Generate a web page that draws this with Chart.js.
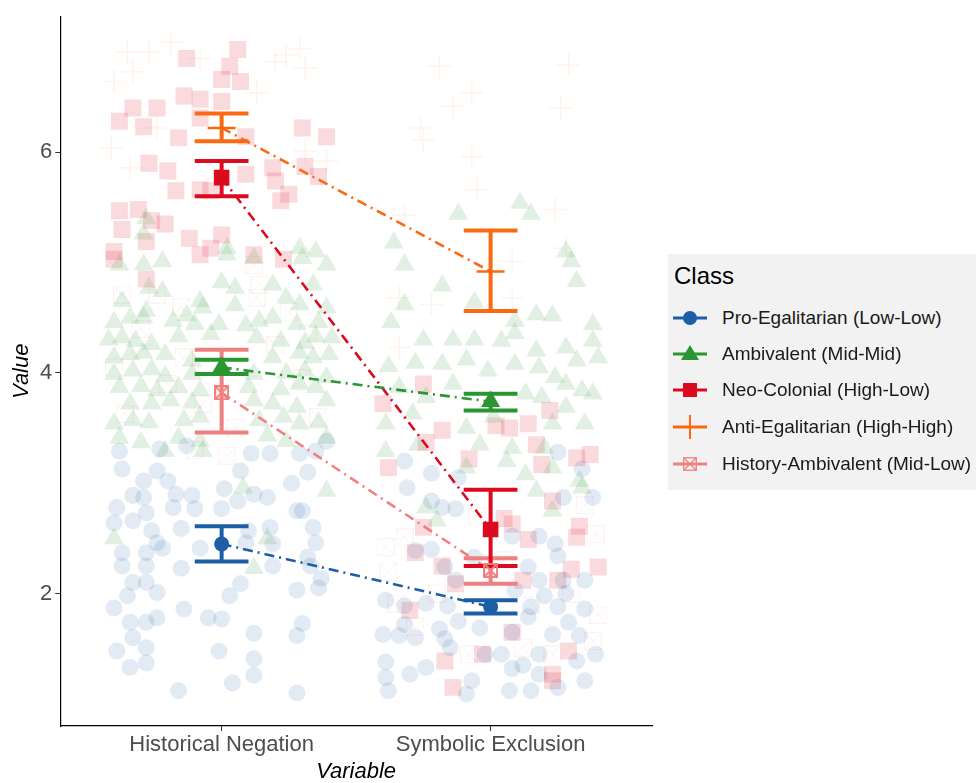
<!DOCTYPE html>
<html>
<head>
<meta charset="utf-8">
<script src="https://cdn.jsdelivr.net/npm/chart.js@4.4.1/dist/chart.umd.min.js"></script>
<style>
  body { margin: 0; background: #fff; }
  #wrap { position: relative; width: 976px; height: 783px; overflow: hidden; font-family: "Liberation Sans", Arial, sans-serif; }
  #legend { position: absolute; left: 668px; top: 254px; width: 330px; height: 236px; background: #f2f2f2; }
  #legend .title { position: absolute; left: 6px; top: 8px; font-size: 24px; color: #000; }
  #legend .row { position: absolute; left: 4px; height: 24px; display: flex; align-items: center; }
  #legend .row canvas { width: 36px; height: 24px; }
  #legend .row span { margin-left: 14px; font-size: 19px; color: #1a1a1a; white-space: nowrap; }
</style>
</head>
<body>
<div id="wrap">
  <canvas id="c" width="976" height="783"></canvas>
  <div id="legend"><div class="title">Class</div></div>
</div>
<script>
// ---------------------------------------------------------------
// data
const categories = ['Historical Negation', 'Symbolic Exclusion'];
const classNames = ['Pro-Egalitarian (Low-Low)', 'Ambivalent (Mid-Mid)', 'Neo-Colonial (High-Low)',
                    'Anti-Egalitarian (High-High)', 'History-Ambivalent (Mid-Low)'];
const classColors = ['#1d5fa6', '#2a9632', '#dc0a1e', '#fb6a12', '#f08080'];
const yTicks = [2, 4, 6];

// class means per category [HN, SE] and error bar limits
const means   = [[2.45, 1.88], [4.05, 3.74], [5.77, 2.58], [6.22, 4.92], [3.82, 2.21]];
const lowerCI = [[2.29, 1.82], [3.99, 3.66], [5.60, 2.25], [6.10, 4.56], [3.46, 2.09]];
const upperCI = [[2.61, 1.94], [4.12, 3.81], [5.92, 2.94], [6.35, 5.29], [4.21, 2.32]];

// jittered observations: [offset from category, value]
const ptsProEgalHN = [[-0.33,2.89],[-0.29,2.87],[-0.39,2.78],[-0.28,2.73],[-0.18,2.78],[-0.17,2.90],[-0.11,2.89],
  [-0.10,2.77],[0.01,2.95],[0.00,2.77],[0.06,2.84],[0.12,2.90],[0.17,2.87],[0.26,3.00],[0.30,2.75],[0.34,2.60],
  [0.35,2.46],[-0.40,2.64],[-0.33,2.66],[-0.26,2.57],[-0.24,2.46],[-0.22,2.41],[-0.37,2.37],[-0.28,2.37],
  [-0.37,2.25],[-0.28,2.25],[-0.15,2.59],[-0.15,2.23],[-0.08,2.41],[0.10,2.57],[0.09,2.46],[0.18,2.60],
  [0.19,2.45],[0.19,2.25],[0.32,2.33],[0.33,2.25],[0.28,2.75],[-0.33,2.10],[-0.28,2.10],[-0.24,2.01],
  [-0.35,1.98],[-0.40,1.87],[-0.14,1.86],[0.07,2.09],[0.03,1.98],[0.28,2.03],[0.36,2.05],[0.37,2.14],
  [-0.34,1.74],[-0.28,1.74],[-0.24,1.78],[-0.33,1.60],[-0.05,1.78],[0.00,1.77],[0.12,1.64],[0.30,1.73],
  [0.28,1.62],[-0.39,1.48],[-0.28,1.51],[-0.01,1.48],[-0.34,1.33],[-0.28,1.37],[0.12,1.41],[0.12,1.26],
  [0.04,1.19],[-0.16,1.12],[0.28,1.10],[-0.38,3.29],[-0.37,3.13],[-0.29,3.02],[-0.24,3.11],[-0.23,3.31],
  [-0.20,3.02],[-0.13,3.34],[0.07,3.11],[0.11,3.27],[0.18,3.27],[0.29,3.27],[0.32,3.10],[0.35,3.29],[0.39,3.38]];
const ptsProEgalSE = [[-0.31,2.96],[-0.13,2.77],[-0.22,2.84],[-0.18,2.78],[0.27,2.87],[0.38,2.87],[0.18,2.52],
  [0.08,2.52],[-0.28,2.39],[-0.22,2.40],[-0.06,2.33],[0.25,2.34],[0.24,2.45],[0.14,2.24],[0.18,2.12],
  [-0.17,2.24],[-0.13,2.12],[0.27,2.12],[0.35,2.12],[0.20,1.98],[0.15,1.88],[0.14,1.79],[0.25,1.88],
  [0.35,1.86],[-0.39,1.94],[-0.32,1.89],[-0.24,1.91],[-0.16,1.89],[-0.32,1.72],[-0.40,1.63],[-0.34,1.62],
  [-0.28,1.60],[-0.19,1.68],[-0.17,1.59],[-0.04,1.69],[-0.12,1.75],[0.08,1.65],[0.33,1.62],[0.29,1.74],
  [-0.39,1.38],[-0.30,1.27],[-0.24,1.33],[-0.39,1.24],[-0.38,1.12],[-0.15,1.51],[-0.02,1.45],[0.04,1.45],
  [0.18,1.45],[0.12,1.35],[0.18,1.27],[0.08,1.32],[-0.07,1.21],[-0.09,1.09],[0.07,1.12],[0.15,1.12],
  [0.25,1.15],[0.35,1.21],[0.39,1.45],[0.32,1.39],[0.23,1.63],[0.28,2.00],[0.09,2.03],[-0.32,3.20],
  [0.25,3.28],[0.34,3.13],[-0.12,3.05],[-0.22,3.09]];

const ptsAmbivHN = [[-0.38,4.98],[-0.29,4.98],[-0.22,5.01],[0.02,5.07],[0.12,5.04],[0.30,5.04],[0.39,4.98],
  [-0.27,4.77],[-0.22,4.74],[0.00,4.82],[0.05,4.77],[0.19,4.80],[0.34,4.80],[-0.37,4.65],[-0.28,4.56],
  [-0.08,4.65],[-0.07,4.59],[0.05,4.61],[0.24,4.68],[0.29,4.62],[0.39,4.59],[-0.40,4.46],[-0.34,4.50],
  [-0.29,4.50],[-0.18,4.47],[-0.13,4.52],[-0.10,4.44],[-0.01,4.44],[0.09,4.43],[0.14,4.47],[0.19,4.50],
  [0.28,4.44],[0.36,4.46],[-0.42,4.30],[-0.37,4.32],[-0.32,4.29],[-0.26,4.26],[-0.16,4.33],[-0.04,4.35],
  [0.13,4.32],[0.22,4.29],[0.31,4.27],[0.35,4.33],[0.41,4.32],[-0.40,4.14],[-0.34,4.17],[-0.29,4.18],
  [-0.21,4.17],[-0.11,4.11],[0.19,4.14],[0.29,4.18],[0.34,4.14],[0.40,4.17],[-0.40,3.99],[-0.33,4.02],
  [-0.26,4.03],[-0.21,3.97],[-0.11,3.99],[0.12,3.99],[0.24,4.00],[0.31,4.02],[0.39,3.96],[-0.38,3.87],
  [-0.30,3.88],[-0.24,3.84],[-0.16,3.87],[-0.08,3.84],[0.10,3.87],[0.22,3.85],[0.29,3.90],[0.35,3.87],
  [-0.34,3.72],[-0.26,3.72],[-0.19,3.75],[-0.11,3.73],[0.12,3.75],[0.19,3.72],[0.28,3.69],[0.39,3.75],
  [-0.40,3.54],[-0.33,3.57],[-0.27,3.55],[-0.14,3.57],[-0.08,3.60],[0.14,3.57],[0.23,3.60],[0.29,3.54],
  [0.36,3.55],[-0.38,3.41],[-0.30,3.37],[-0.16,3.41],[-0.08,3.38],[0.17,3.43],[0.24,3.38],[0.39,3.41],
  [-0.21,3.29],[-0.07,3.29],[-0.28,5.40],[-0.29,5.26],[0.02,5.13],[0.29,5.13],[0.35,5.10],
  [-0.40,2.50],[0.17,2.50],[0.12,2.23],[0.39,2.93],[0.08,2.96]];
const ptsAmbivSE = [[-0.12,5.44],[0.11,5.54],[0.15,5.44],[-0.36,5.18],[0.28,5.10],[-0.32,4.98],[0.30,5.01],
  [0.32,4.83],[-0.18,4.79],[-0.32,4.62],[-0.06,4.64],[-0.37,4.46],[0.09,4.47],[0.17,4.53],[0.23,4.52],
  [0.38,4.44],[-0.25,4.30],[-0.14,4.30],[-0.06,4.30],[0.04,4.29],[0.17,4.20],[0.28,4.23],[0.38,4.29],
  [0.09,4.36],[-0.38,4.06],[-0.28,4.09],[-0.18,4.08],[-0.09,4.12],[-0.01,4.02],[0.09,4.08],[0.18,4.05],
  [0.24,3.96],[0.32,4.11],[0.40,4.14],[0.28,3.90],[-0.34,3.87],[-0.24,3.78],[-0.14,3.90],[0.13,3.81],
  [0.19,3.78],[0.38,3.81],[0.34,3.84],[-0.39,3.54],[-0.29,3.63],[-0.09,3.50],[0.01,3.60],[0.23,3.54],
  [0.28,3.69],[0.35,3.54],[-0.39,3.29],[-0.27,3.35],[-0.04,3.35],[0.08,3.32],[0.20,3.32],[0.06,3.20],
  [0.23,3.14],[-0.09,3.14],[0.13,3.08],[0.33,3.02],[0.34,2.96],[0.17,2.93],[0.23,2.75],[-0.24,2.78],
  [-0.20,2.66]];

const ptsNeoColHN = [[0.06,6.93],[-0.13,6.85],[0.03,6.78],[0.00,6.66],[0.07,6.64],[-0.14,6.51],[-0.08,6.48],
  [0.00,6.46],[-0.33,6.40],[-0.24,6.40],[-0.38,6.28],[-0.29,6.23],[-0.16,6.13],[-0.08,6.31],[0.09,6.14],
  [0.30,6.22],[0.39,6.14],[-0.27,5.90],[-0.20,5.83],[0.09,5.80],[0.19,5.86],[0.31,5.87],[0.20,5.74],
  [0.36,5.78],[-0.17,5.65],[-0.08,5.66],[-0.04,5.65],[0.22,5.56],[0.25,5.62],[-0.38,5.47],[-0.31,5.48],
  [-0.26,5.38],[-0.21,5.35],[-0.37,5.30],[-0.12,5.22],[0.00,5.25],[-0.40,5.10],[-0.28,5.19],[-0.04,5.13],
  [-0.40,5.03],[-0.28,4.85],[-0.08,5.07],[0.12,5.07],[0.23,5.03]];
const ptsNeoColSE = [[-0.25,3.90],[-0.40,3.72],[0.02,3.52],[0.07,3.50],[0.14,3.54],[0.22,3.66],[0.17,3.35],
  [0.19,3.17],[-0.08,3.22],[-0.18,3.48],[-0.24,3.37],[0.32,3.23],[0.37,3.26],[-0.38,3.14],[0.23,2.84],
  [0.33,2.61],[0.32,2.51],[0.40,2.24],[0.30,2.22],[0.25,2.12],[-0.25,2.60],[-0.28,2.37],[-0.18,2.25],
  [0.08,2.63],[0.05,2.68],[0.14,2.49],[-0.13,2.09],[0.08,1.65],[-0.03,1.45],[-0.17,1.39],[-0.14,1.15],
  [0.23,1.21],[0.29,1.48],[0.23,1.27],[0.12,2.12],[-0.30,1.85]];

const ptsAntiEgHN = [[-0.35,6.91],[-0.27,6.91],[-0.19,7.00],[-0.08,6.85],[-0.40,6.64],[-0.33,6.73],[0.13,6.54],
  [0.24,6.88],[0.29,6.94],[0.31,6.76],[-0.41,6.04],[-0.34,5.86],[0.31,6.01],[0.39,5.92],[-0.24,6.22],[0.20,6.82]];
const ptsAntiEgSE = [[-0.19,6.78],[-0.07,6.54],[-0.14,6.42],[-0.26,6.22],[-0.25,6.11],[-0.07,5.96],[-0.05,5.66],
  [0.29,6.79],[0.26,6.40],[0.24,5.48],[-0.32,5.43],[0.28,5.13],[-0.34,4.68],[-0.22,4.62],[0.08,4.68],
  [-0.34,4.23],[0.08,5.01]];

const ptsHistAmbHN = [[-0.37,4.71],[-0.24,4.71],[0.13,4.68],[0.14,4.80],[-0.14,4.14],[-0.07,3.72],[-0.36,3.63],
  [0.12,4.98],[-0.30,4.40],[0.20,4.25],[-0.20,3.90],[0.05,3.50],[0.30,3.95],[-0.10,3.30],[0.25,4.55],
  [-0.40,4.05],[0.36,3.60],[-0.15,4.60],[0.02,3.25],[0.32,4.35]];
const ptsHistAmbSE = [[-0.39,2.42],[-0.32,2.51],[-0.35,1.91],[0.40,1.81],[0.39,2.54],[0.38,1.57],[0.12,1.51],
  [-0.08,1.45],[0.23,1.45],[-0.20,2.00],[0.05,2.30],[-0.28,1.70],[0.30,2.00],[0.15,1.90],[-0.05,2.70],
  [0.35,2.80],[-0.38,2.20]];

const jitterHN = [ptsProEgalHN, ptsAmbivHN, ptsNeoColHN, ptsAntiEgHN, ptsHistAmbHN];
const jitterSE = [ptsProEgalSE, ptsAmbivSE, ptsNeoColSE, ptsAntiEgSE, ptsHistAmbSE];

// ---------------------------------------------------------------
function rgba(hex, a) {
    var n = parseInt(hex.slice(1), 16);
    return 'rgba(' + (n >> 16) + ',' + ((n >> 8) & 255) + ',' + (n & 255) + ',' + a + ')';
}

// square with an X inside (History-Ambivalent marker)
function boxCross(size, color, lw) {
    var c = document.createElement('canvas');
    c.width = size; c.height = size;
    var g = c.getContext('2d');
    var h = lw / 2;
    g.strokeStyle = color;
    g.lineWidth = lw;
    g.strokeRect(h, h, size - lw, size - lw);
    g.beginPath();
    g.moveTo(h, h); g.lineTo(size - h, size - h);
    g.moveTo(size - h, h); g.lineTo(h, size - h);
    g.stroke();
    return c;
}

const jitterStyle = [
    { pointStyle: 'circle',   radius: 8.5, fill: 0.13 },
    { pointStyle: 'triangle', radius: 11.5, fill: 0.14 },
    { pointStyle: 'rect',     radius: 12,  fill: 0.15 },
    { pointStyle: 'cross',    radius: 12,  fill: 0.08 },
    { pointStyle: boxCross(18, rgba(classColors[4], 0.1), 1), radius: 9, fill: 0 }
];
const meanStyle = [
    { pointStyle: 'circle',   radius: 7.5 },
    { pointStyle: 'triangle', radius: 11 },
    { pointStyle: 'rect',     radius: 11 },
    { pointStyle: 'cross',    radius: 14 },
    { pointStyle: boxCross(15, classColors[4], 2), radius: 8 }
];

var datasets = [];
classNames.forEach(function(name, i) {
    var col = classColors[i];
    // jittered raw points
    var pts = jitterHN[i].map(p => ({ x: 1 + p[0], y: p[1] }))
        .concat(jitterSE[i].map(p => ({ x: 2 + p[0], y: p[1] })));
    datasets.push({
        label: name + ' obs', data: pts, order: 40 + i,
        pointStyle: jitterStyle[i].pointStyle, pointRadius: jitterStyle[i].radius,
        backgroundColor: rgba(col, jitterStyle[i].fill),
        borderColor: i === 3 ? rgba(col, 0.08) : rgba(col, 0),
        borderWidth: i === 3 ? 1.5 : 0, showLine: false
    });
    // dot-dash line between means
    datasets.push({
        label: name + ' line', order: 30 + i, showLine: true,
        data: [{ x: 1, y: means[i][0] }, { x: 2, y: means[i][1] }],
        borderColor: col, borderWidth: 2.6, borderDash: [10, 5, 2, 5], pointRadius: 0
    });
    // error bars: vertical + caps, broken by null points
    var eb = [];
    [0, 1].forEach(function(k) {
        var x = k + 1;
        eb.push({ x: x, y: lowerCI[i][k] }, { x: x, y: upperCI[i][k] }, { x: x, y: null },
                { x: x - 0.1, y: lowerCI[i][k] }, { x: x + 0.1, y: lowerCI[i][k] }, { x: x, y: null },
                { x: x - 0.1, y: upperCI[i][k] }, { x: x + 0.1, y: upperCI[i][k] }, { x: x, y: null });
    });
    datasets.push({
        label: name + ' ci', order: 20 + i * 0.1, showLine: true, spanGaps: false,
        data: eb, borderColor: col, borderWidth: 4, borderCapStyle: 'butt', pointRadius: 0
    });
    // mean markers
    datasets.push({
        label: name, order: 10 + i * 0.1, showLine: false,
        data: [{ x: 1, y: means[i][0] }, { x: 2, y: means[i][1] }],
        pointStyle: meanStyle[i].pointStyle, pointRadius: meanStyle[i].radius,
        backgroundColor: col, borderColor: col, borderWidth: i === 3 ? 2.5 : 0
    });
});

const tickFont = { family: '"Liberation Sans", Arial, sans-serif', size: 22, lineHeight: 1 };
const titleFont = { family: '"Liberation Sans", Arial, sans-serif', size: 22, style: 'italic', lineHeight: 1 };

new Chart(document.getElementById('c'), {
    type: 'scatter',
    data: { datasets: datasets },
    options: {
        responsive: false,
        animation: false,
        events: [],
        layout: { padding: { left: 9, right: 324, top: 15, bottom: 0 } },
        plugins: { legend: { display: false }, tooltip: { enabled: false } },
        scales: {
            x: {
                type: 'linear', min: 0.4, max: 2.6,
                afterBuildTicks: function(scale) { scale.ticks = [{ value: 1 }, { value: 2 }]; },
                ticks: { font: tickFont, color: '#4d4d4d', padding: 3, maxRotation: 0,
                         callback: v => categories[v - 1] },
                grid: { drawOnChartArea: false, tickLength: 5, color: '#333', tickColor: '#333' },
                border: { display: true, color: '#000', width: 1.2 },
                title: { display: true, text: 'Variable', font: titleFont, color: '#000',
                         padding: { top: 2, bottom: 0 } }
            },
            y: {
                min: 0.8, max: 7.23,
                afterBuildTicks: function(scale) { scale.ticks = yTicks.map(v => ({ value: v })); },
                ticks: { font: tickFont, color: '#4d4d4d', padding: 3 },
                grid: { drawOnChartArea: false, tickLength: 5, color: '#333', tickColor: '#333' },
                border: { display: true, color: '#000', width: 1.2 },
                title: { display: true, text: 'Value', font: titleFont, color: '#000',
                         padding: { top: 2, bottom: 4 } }
            }
        }
    }
});

// ---------------------------------------------------------------
// legend (line + marker keys like the ggplot legend)
var legend = document.getElementById('legend');
var rowTops = [52, 88, 124, 161, 198];
classNames.forEach(function(name, i) {
    var row = document.createElement('div');
    row.className = 'row';
    row.style.top = rowTops[i] + 'px';
    var key = document.createElement('canvas');
    key.width = 36; key.height = 24;
    var g = key.getContext('2d');
    var col = classColors[i];
    g.strokeStyle = col; g.fillStyle = col; g.lineWidth = 3;
    g.beginPath(); g.moveTo(1, 12); g.lineTo(35, 12); g.stroke();
    if (i === 0) { g.beginPath(); g.arc(18, 12, 7, 0, Math.PI * 2); g.fill(); }
    if (i === 1) { g.beginPath(); g.moveTo(18, 3); g.lineTo(27, 18); g.lineTo(9, 18); g.closePath(); g.fill(); }
    if (i === 2) { g.fillRect(11, 5, 14, 14); }
    if (i === 3) { g.lineWidth = 2; g.beginPath(); g.moveTo(18, 0); g.lineTo(18, 24); g.stroke(); }
    if (i === 4) { g.drawImage(boxCross(14, rgba(col, 0.9), 1.5), 11, 5); }
    row.appendChild(key);
    var txt = document.createElement('span');
    txt.textContent = name;
    row.appendChild(txt);
    legend.appendChild(row);
});
</script>
</body>
</html>
